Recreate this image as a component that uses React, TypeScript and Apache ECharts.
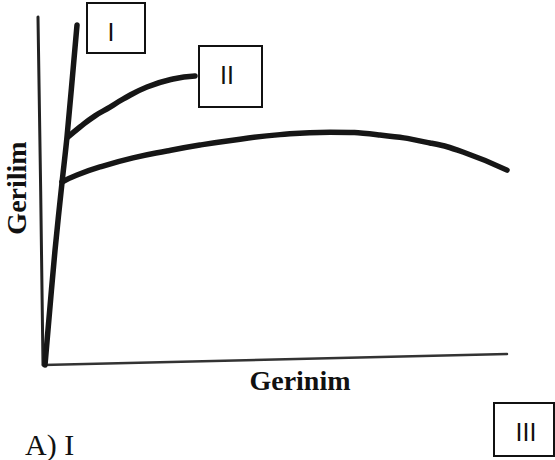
import React, { useEffect, useRef } from "react";
import * as echarts from "echarts";

// Data in chart units (x: strain, y: stress, 0..100)
const yAxisLine: number[][] = [[-1.08, 100], [-0.5, 50], [0, 0]];
const xAxisLine: number[][] = [[0, 0], [50, 1.6], [100, 3.16]];
const curveI: number[][] = [[0.43, 0], [1.08, 10.1], [2.59, 33.0], [4.09, 52.3], [5.17, 65.5], [7.33, 97.7]];
const curveII: number[][] = [
  [5.39, 65.5], [7.97, 68.4], [11.21, 71.6], [14.44, 74.1], [17.24, 76.4], [22.41, 79.9], [28.02, 82.2], [32.76, 83.05],
];
const curveIII: number[][] = [
  [4.09, 52.6], [7.33, 54.6], [12.28, 56.9], [19.4, 59.5], [26.7, 61.5], [33.8, 63.2],
  [40.9, 64.6], [51.1, 66.2], [61.9, 66.9], [72.6, 66.1], [83.4, 63.8], [90.5, 61.2], [100, 56.0],
];
const curveLabels: string[] = ["I", "II", "III"];
const xAxisName = "Gerinim";
const yAxisName = "Gerilim";
const answerText = "A) I";

export default function App() {
  const ref = useRef<HTMLDivElement>(null);
  useEffect(() => {
    if (!ref.current) return;
    const chart = echarts.init(ref.current, null, { renderer: "svg" });
    const lineSeries = (name: string, data: number[][], width: number, color: string, smooth: number | boolean) => ({
      type: "line",
      name,
      data,
      smooth,
      showSymbol: false,
      symbol: "none",
      clip: false,
      lineStyle: { color, width, cap: "round", join: "round" },
    });
    const box = (x: number, y: number, w: number, h: number, label: string, tx: number, ty: number) => [
      { type: "rect", shape: { x, y, width: w, height: h }, style: { fill: "#fff", stroke: "#111", lineWidth: 2 }, z: 10 },
      {
        type: "text", x: tx, y: ty, z: 11,
        style: { text: label, fill: "#111", font: "25px 'Liberation Sans', Arial, sans-serif", align: "center", verticalAlign: "middle" },
      },
    ];
    chart.setOption({
      animation: false,
      backgroundColor: "#ffffff",
      grid: { left: 33.72, top: 17, width: 473.28, height: 348 },
      xAxis: { type: "value", min: -2, max: 100, show: false },
      yAxis: { type: "value", min: 0, max: 100, show: false },
      series: [
        lineSeries("yaxis", yAxisLine, 3, "#222", false),
        lineSeries("xaxis", xAxisLine, 2.5, "#333", false),
        lineSeries(curveLabels[0], curveI, 5.5, "#161616", 0.3),
        lineSeries(curveLabels[1], curveII, 5.5, "#161616", 0.5),
        lineSeries(curveLabels[2], curveIII, 5.5, "#161616", 0.5),
      ],
      graphic: [
        ...box(87, 3, 58, 50, curveLabels[0], 111, 32),
        ...box(199, 46, 63, 61, curveLabels[1], 227, 75),
        ...box(494, 403, 60, 53, curveLabels[2], 526, 432),
        {
          type: "text", x: 300, y: 380,
          style: { text: xAxisName, fill: "#111", font: "bold 28px 'Liberation Serif', 'Times New Roman', serif", align: "center", verticalAlign: "middle" },
        },
        {
          type: "text", x: 16, y: 188, rotation: Math.PI / 2,
          style: { text: yAxisName, fill: "#111", font: "bold 28px 'Liberation Serif', 'Times New Roman', serif", align: "center", verticalAlign: "middle" },
        },
        {
          type: "text", x: 25, y: 444,
          style: { text: answerText, fill: "#111", font: "30px 'Liberation Serif', 'Times New Roman', serif", align: "left", verticalAlign: "middle" },
        },
      ],
    });
    return () => chart.dispose();
  }, []);
  return <div ref={ref} style={{ position: "absolute", left: 0, top: 0, width: 555, height: 460 }} />;
}
